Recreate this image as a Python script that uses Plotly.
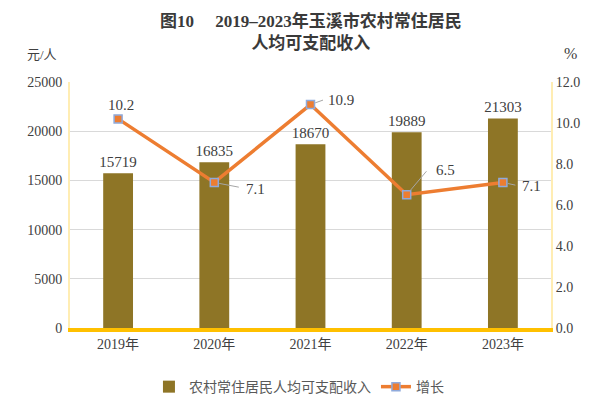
import plotly.graph_objects as go

years = ["2019年", "2020年", "2021年", "2022年", "2023年"]
income = [15719, 16835, 18670, 19889, 21303]
growth = [10.2, 7.1, 10.9, 6.5, 7.1]
income_ticks = [0, 5000, 10000, 15000, 20000, 25000]
growth_ticks = [0.0, 2.0, 4.0, 6.0, 8.0, 10.0, 12.0]

# growth label placement (pixel offsets from the marker)
lab_dx = [3, 30, 15, 27, 17]
lab_dy = [14, -7, 5, 25, -4]          # positive = up
lab_anchor = ["center", "left", "left", "left", "left"]
lead_dx = [None, 26, 14, 21, 14]
lead_dy = [None, 5, -5, -25, 3]       # positive = down

num_font = "Liberation Serif, Times New Roman, Noto Sans CJK SC, serif"
cjk_font = "Liberation Serif, Noto Sans CJK SC, serif"
txt = "#404040"

fig = go.Figure()
fig.add_trace(go.Bar(
    x=years, y=income, name="农村常住居民人均可支配收入",
    marker=dict(color="#8E7526", line=dict(width=0)),
    width=0.31,
    text=[str(v) for v in income], textposition="outside",
    textfont=dict(family=num_font, size=15, color=txt),
    constraintext="none",
    cliponaxis=False,
))
fig.add_trace(go.Scatter(
    x=years, y=growth, name="增长", yaxis="y2", mode="lines+markers",
    line=dict(color="#ED7D31", width=3.5),
    marker=dict(symbol="square", size=8, color="#ED7D31",
                line=dict(color="#8FAADC", width=1.5)),
))

for i, (x, y) in enumerate(zip(years, growth)):
    if lead_dx[i] is not None:
        fig.add_annotation(
            x=x, y=y, xref="x", yref="y2", text="",
            showarrow=True, arrowhead=0, arrowwidth=1, arrowcolor="#A6A6A6",
            ax=lead_dx[i], ay=lead_dy[i], standoff=5,
        )
    fig.add_annotation(
        x=x, y=y, xref="x", yref="y2", text=f"{y:.1f}", showarrow=False,
        xshift=lab_dx[i], yshift=lab_dy[i], xanchor=lab_anchor[i], yanchor="middle",
        font=dict(family=num_font, size=15, color=txt),
    )

# title
fig.add_annotation(x=0.5, y=1.295, xref="paper", yref="paper",
                   text="<b>图10     2019–2023年玉溪市农村常住居民<br>人均可支配收入</b>",
                   showarrow=False, xanchor="center", yanchor="top",
                   font=dict(family=cjk_font, size=17, color="#3A3A3A"))
fig.add_annotation(x=-0.094, y=1.11, xref="paper", yref="paper", text="元/人",
                   showarrow=False, xanchor="left", yanchor="middle",
                   font=dict(family=cjk_font, size=13, color=txt))
fig.add_annotation(x=1.04, y=1.115, xref="paper", yref="paper", text="%",
                   showarrow=False, xanchor="center", yanchor="middle",
                   font=dict(family=num_font, size=16, color=txt))

# light green page edge
fig.add_shape(type="rect", xref="paper", yref="paper", x0=1.083, x1=1.2, y0=-0.5, y1=1.5,
              fillcolor="#F1F8F1", line=dict(width=0), layer="below")
fig.add_shape(type="line", xref="paper", yref="paper", x0=1.083, x1=1.083, y0=-0.5, y1=1.5,
              line=dict(color="#CFE6CF", width=2))

fig.update_layout(
    width=587, height=391,
    margin=dict(l=62, r=44, t=74, b=71, autoexpand=False),
    paper_bgcolor="white", plot_bgcolor="white",
    showlegend=True,
    legend=dict(orientation="h", x=0.476, xanchor="center", y=-0.175, yanchor="top",
                font=dict(family=cjk_font, size=14, color="#595959")),
    bargap=0.69,
    xaxis=dict(showgrid=False, showline=True, linecolor="#FFC000", linewidth=4,
               ticks="", tickfont=dict(family=cjk_font, size=14, color=txt)),
    yaxis=dict(range=[0, 25000], tickvals=income_ticks, ticktext=[str(v) for v in income_ticks],
               showgrid=True, gridcolor="#D9D9D9",
               showline=True, linecolor="#FFEDB3", linewidth=2, zeroline=False,
               tickfont=dict(family=num_font, size=14, color=txt), ticklabelstandoff=3),
    yaxis2=dict(range=[0, 12], tickvals=growth_ticks, ticktext=[f"{v:.1f}" for v in growth_ticks],
                overlaying="y", side="right", showgrid=False, showline=True,
                linecolor="#FFEDB3", linewidth=2, zeroline=False,
                tickfont=dict(family=num_font, size=14, color=txt), ticklabelstandoff=0),
)

fig.write_html("out.html")
